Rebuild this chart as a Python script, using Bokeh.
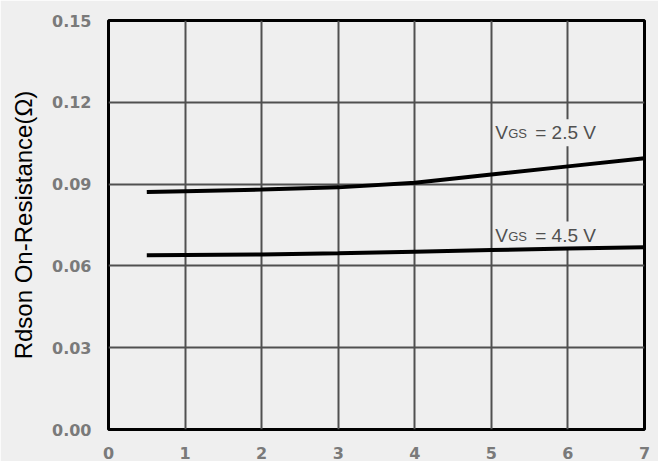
from bokeh.plotting import figure
from bokeh.models import Range1d, FixedTicker, Label
from bokeh.embed import file_html
from bokeh.resources import INLINE

# Data
x_vals = [0.5, 1, 2, 3, 4, 5, 6, 7]
r_vgs25 = [0.0871, 0.0874, 0.0880, 0.0888, 0.0905, 0.0935, 0.0965, 0.0995]
r_vgs45 = [0.0639, 0.0640, 0.0642, 0.0646, 0.0652, 0.0658, 0.0664, 0.0668]
x_ticks = [0, 1, 2, 3, 4, 5, 6, 7]
y_ticks = [0.0, 0.03, 0.06, 0.09, 0.12, 0.15]
y_tick_labels = ["0.00", "0.03", "0.06", "0.09", "0.12", "0.15"]
series_labels = [("V", "GS", "= 2.5 V", 5.05, 0.1088), ("V", "GS", "= 4.5 V", 5.05, 0.0713)]
y_title = "Rdson On-Resistance(Ω)"

BG = "#efefef"

p = figure(width=658, height=461, output_backend="svg", toolbar_location=None,
           x_range=Range1d(0, 7), y_range=Range1d(0, 0.15),
           min_border_left=108, min_border_right=14, min_border_top=20, min_border_bottom=31)
p.background_fill_color = BG
p.border_fill_color = BG
p.outline_line_color = "black"
p.outline_line_width = 3

p.xaxis.ticker = FixedTicker(ticks=x_ticks)
p.yaxis.ticker = FixedTicker(ticks=y_ticks)
p.yaxis.major_label_overrides = {t: l for t, l in zip(y_ticks, y_tick_labels)}

for ax in (p.xaxis[0], p.yaxis[0]):
    ax.axis_line_color = None
    ax.major_tick_line_color = None
    ax.minor_tick_line_color = None
    ax.major_label_text_font = "DejaVu Sans"
    ax.major_label_text_font_style = "bold"
    ax.major_label_text_font_size = "16px"
    ax.major_label_text_color = "#7a7a7a"
p.xaxis.major_label_standoff = 11
p.yaxis.major_label_standoff = 11

p.yaxis.axis_label = y_title
p.yaxis.axis_label_text_font = "Liberation Sans"
p.yaxis.axis_label_text_font_style = "normal"
p.yaxis.axis_label_text_font_size = "24px"
p.yaxis.axis_label_text_color = "black"
p.yaxis.axis_label_standoff = 12

p.xgrid.grid_line_color = "#505050"
p.xgrid.grid_line_width = 2
p.ygrid.grid_line_color = "#505050"
p.ygrid.grid_line_width = 2

p.line(x_vals, r_vgs25, line_color="black", line_width=4)
p.line(x_vals, r_vgs45, line_color="black", line_width=4)

for main, sub, rest, lx, ly in series_labels:
    common = dict(x=lx, y=ly, text_font="Liberation Sans", text_color="#505050",
                  text_baseline="alphabetic", text_align="left", level="underlay")
    p.add_layout(Label(text=rest, text_font_size="19px", x_offset=37,
                       background_fill_color=BG, padding=3, **common))
    p.add_layout(Label(text=sub, text_font_size="13px", x_offset=13, y_offset=-1, **common))
    p.add_layout(Label(text=main, text_font_size="19px", **common))

open("out.html", "w").write(file_html(p, INLINE))
